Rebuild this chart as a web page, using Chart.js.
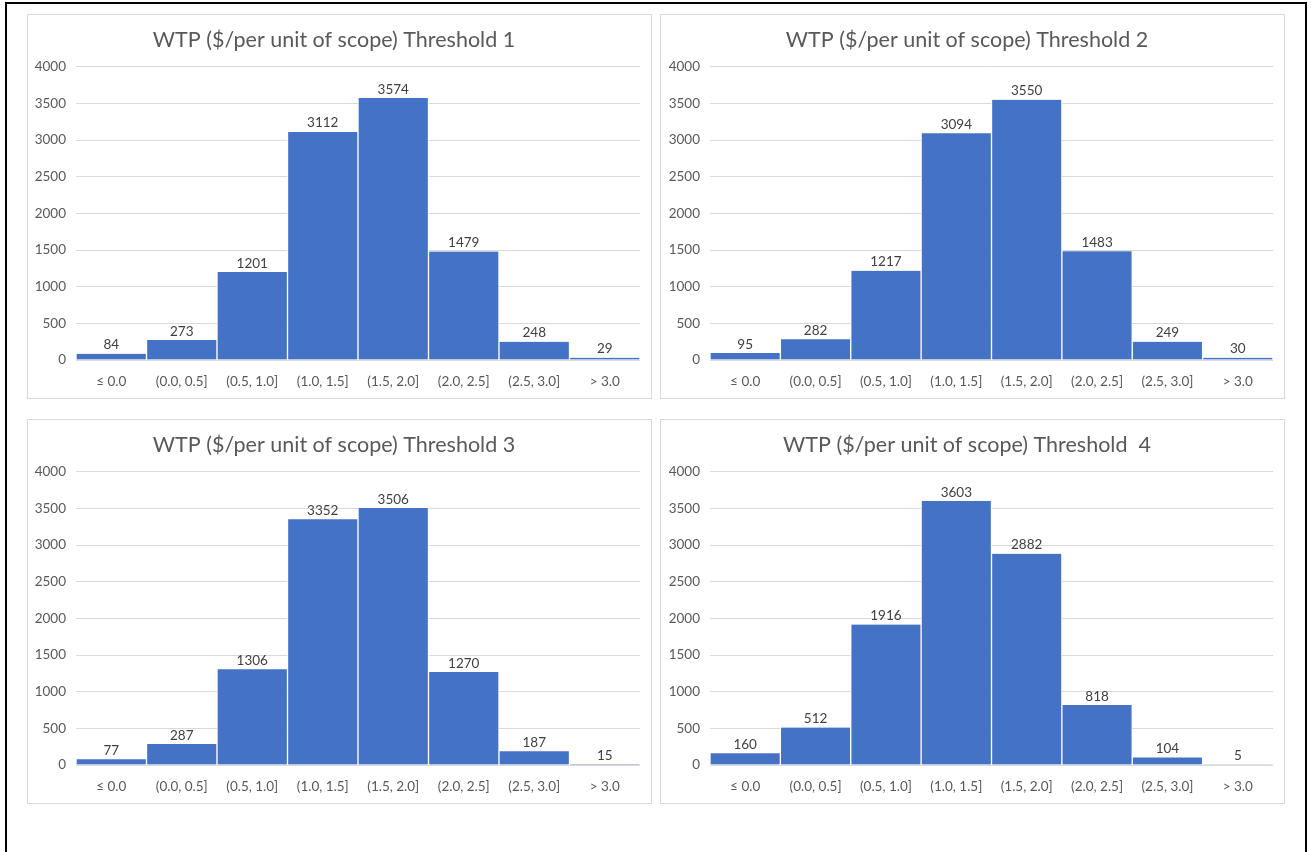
<!DOCTYPE html>
<html><head><meta charset="utf-8">
<script src="https://cdn.jsdelivr.net/npm/chart.js@4"></script>
<style>
body{margin:0;background:#fff;width:1311px;height:852px;overflow:hidden;position:relative;font-family:Lato,sans-serif}
#frame{position:absolute;left:5px;top:2px;width:1298px;height:900px;border:2px solid #000}
.panel{position:absolute;border:1px solid #D9D9D9;background:#fff;width:623px;height:383px}
.panel canvas{display:block}
</style></head><body>
<div id="frame"></div>
<div class="panel" style="left:27px;top:14px"><canvas id="c1"></canvas></div>
<div class="panel" style="left:660px;top:14px"><canvas id="c2"></canvas></div>
<div class="panel" style="left:27px;top:419px"><canvas id="c3"></canvas></div>
<div class="panel" style="left:660px;top:419px"><canvas id="c4"></canvas></div>
<script>
const categories = ["≤ 0.0", "(0.0, 0.5]", "(0.5, 1.0]", "(1.0, 1.5]", "(1.5, 2.0]", "(2.0, 2.5]", "(2.5, 3.0]", "> 3.0"];
const threshold1 = [84, 273, 1201, 3112, 3574, 1479, 248, 29];
const threshold2 = [95, 282, 1217, 3094, 3550, 1483, 249, 30];
const threshold3 = [77, 287, 1306, 3352, 3506, 1270, 187, 15];
const threshold4 = [160, 512, 1916, 3603, 2882, 818, 104, 5];
const titles = ["WTP ($/per unit of scope) Threshold 1", "WTP ($/per unit of scope) Threshold 2", "WTP ($/per unit of scope) Threshold 3", "WTP ($/per unit of scope) Threshold  4"];
const yMin = 0, yMax = 4000, yStep = 500;

const FONT = "Lato";
const valueLabels = {
  id: 'valueLabels',
  afterDatasetsDraw(chart) {
    const ctx = chart.ctx;
    const meta = chart.getDatasetMeta(0);
    const data = chart.data.datasets[0].data;
    ctx.save();
    ctx.font = '13.5px ' + FONT;
    ctx.fillStyle = '#404040';
    ctx.textAlign = 'center';
    ctx.textBaseline = 'bottom';
    meta.data.forEach((bar, i) => ctx.fillText(String(data[i]), bar.x, bar.y - 2));
    ctx.restore();
  }
};

function makeChart(id, title, values, yWidth) {
  new Chart(document.getElementById(id), {
    type: 'bar',
    data: {
      labels: categories,
      datasets: [{
        data: values,
        backgroundColor: '#4472C4',
        borderColor: '#FFFFFF',
        borderWidth: {left: 1, right: 1, top: 0, bottom: 0},
        borderSkipped: false,
        barPercentage: 1,
        categoryPercentage: 1
      }]
    },
    options: {
      responsive: true,
      maintainAspectRatio: false,
      animation: false,
      layout: {padding: {left: 0, right: 11, top: 0, bottom: 0}},
      plugins: {
        legend: {display: false},
        tooltip: {enabled: false},
        title: {
          display: true, text: title, color: '#595959',
          font: {family: FONT, size: 21.5, weight: 'normal'},
          padding: {top: 12, bottom: 14}
        }
      },
      scales: {
        x: {
          grid: {display: false, drawTicks: false},
          border: {display: false},
          ticks: {color: '#595959', font: {family: FONT, size: 13.5}, padding: 14, maxRotation: 0, autoSkip: false},
          afterFit(scale) { scale.height = 38; }
        },
        y: {
          min: yMin, max: yMax,
          grid: {color: '#D9D9D9', drawTicks: false},
          border: {display: false},
          ticks: {stepSize: yStep, color: '#595959', font: {family: FONT, size: 13.5}, padding: 10,
                  callback: (v) => String(v)},
          afterFit(scale) { scale.width = yWidth; }
        }
      }
    },
    plugins: [valueLabels]
  });
}
makeChart('c1', titles[0], threshold1, 48);
makeChart('c2', titles[1], threshold2, 49);
makeChart('c3', titles[2], threshold3, 48);
makeChart('c4', titles[3], threshold4, 49);
</script>
</body></html>
